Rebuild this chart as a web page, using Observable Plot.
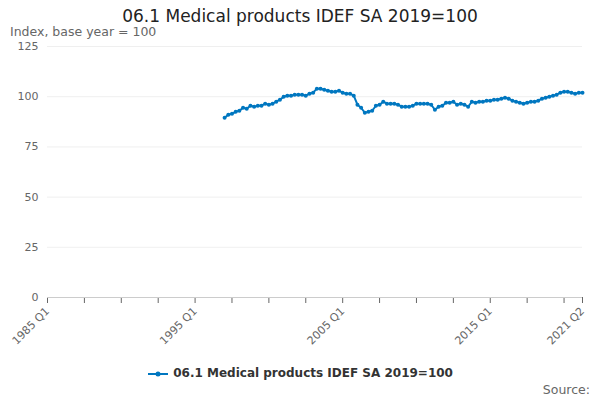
<!DOCTYPE html>
<html><head><meta charset="utf-8">
<script src="https://cdn.jsdelivr.net/npm/d3@7"></script>
<script src="https://cdn.jsdelivr.net/npm/@observablehq/plot@0.6"></script>
<style>
body{margin:0;font-family:"DejaVu Sans",sans-serif;width:600px;height:400px;position:relative;overflow:hidden}
#t{position:absolute;top:6px;width:600px;text-align:center;font-size:17px;color:#222}
#s{position:absolute;top:24px;left:10px;font-size:12.5px;color:#666}
#c{position:absolute;top:38px;left:0}
#l{position:absolute;top:366px;width:600px;text-align:center;font-size:12px;font-weight:bold;color:#333}
#src{position:absolute;top:382px;right:10px;font-size:12.5px;color:#666}
</style></head><body>
<div id="t">06.1 Medical products IDEF SA 2019=100</div>
<div id="s">Index, base year = 100</div>
<div id="c"></div>
<div id="l"><svg width="22" height="10" style="vertical-align:middle"><line x1="1" y1="5" x2="21" y2="5" stroke="#0077c0" stroke-width="2"/><circle cx="11" cy="5" r="2.5" fill="#0077c0"/></svg> 06.1 Medical products IDEF SA 2019=100</div>
<div id="src">Source:</div>
<script>
const startYear = 1997;
const values = [89.5,91,91.5,92.5, 93,94.5,94,95.5, 95,95.5,95.5,96.5, 96,96.5,97.5,98.5,
100,100.5,100.5,101, 101,101,100.5,101.5, 102,104,104,103.5, 103,102.5,102.5,103,
102,101.5,101.5,100.5, 96,94.5,92,92.5, 93,95.5,96,97.5, 96.5,96.5,96.5,96,
95,95,95,95.5, 96.5,96.5,96.5,96.5, 96,93.5,95,95.5, 97,97,97.5,96,
96.5,96,95,97.5, 97,97.5,97.5,98, 98,98.5,98.5,99, 99.5,99,98,97.5,
97,96.5,97,97.5, 97.5,98,99,99.5, 100,100.5,101,102, 102.5,102.5,102,101.5, 102,102];
const tickLabels = {0:"1985 Q1",40:"1995 Q1",80:"2005 Q1",120:"2015 Q1",145:"2021 Q2"};
const data = values.map((v,i)=>({q:(startYear-1985)*4+i, v}));
const ticks = d3.range(0,146,10).concat([145]);
const chart = Plot.plot({
  width:600,height:320,marginLeft:47,marginRight:18,marginTop:8,marginBottom:61,
  style:{fontFamily:"DejaVu Sans",fontSize:"11px",color:"#666"},
  x:{domain:[0,145],ticks:ticks,tickFormat:d=>tickLabels[d]??"",tickRotate:-45,label:null,tickSize:6},
  y:{domain:[0,125],ticks:[0,25,50,75,100,125],label:null,tickSize:0,grid:true},
  marks:[
    Plot.ruleY([0],{stroke:"#ccc"}),
    Plot.line(data,{x:"q",y:"v",stroke:"#0077c0",strokeWidth:2}),
    Plot.dot(data,{x:"q",y:"v",fill:"#0077c0",r:2})
  ]
});
document.getElementById("c").append(chart);
</script></body></html>
